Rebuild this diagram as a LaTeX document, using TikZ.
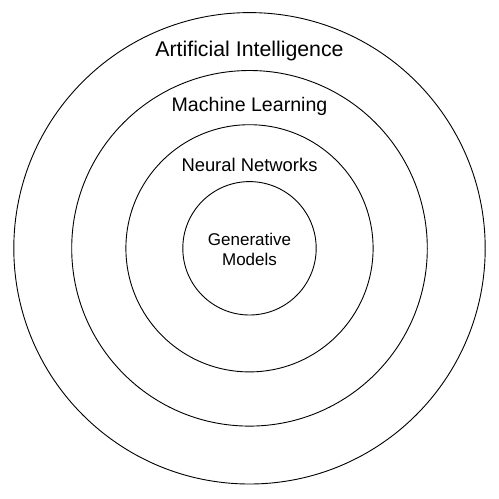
\documentclass[tikz,border=0pt]{standalone}
\usepackage{fontspec}
\setmainfont{Liberation Sans}
\begin{document}
\begin{tikzpicture}[x=1pt,y=-1pt,
  ring/.style={draw=black,line width=0.9pt,circle,inner sep=0pt,fill=none},
  lbl/.style={anchor=base,inner sep=0pt,text=black,align=center}]
\useasboundingbox (0,0) rectangle (499,499);
\fill[white] (0,0) rectangle (499,499);
\coordinate (c) at (249.5,248.3);
\node[ring,minimum size=471.4pt] (ai) at (c) {};
\node[ring,minimum size=355.6pt] (ml) at (c) {};
\node[ring,minimum size=247.2pt] (nn) at (c) {};
\node[ring,minimum size=133.4pt] (gm) at (c) {};
\node[lbl,font=\fontsize{21.3}{25}\selectfont] (tai) at (249.5,56) {Artificial Intelligence};
\node[lbl,font=\fontsize{19.6}{22}\selectfont] (tml) at (249.5,111.7) {Machine Learning};
\node[lbl,font=\fontsize{18.4}{22}\selectfont] (tnn) at (249.5,171.7) {Neural Networks};
\node[lbl,font=\fontsize{17}{20}\selectfont] (tgm1) at (249.5,245.7) {Generative};
\node[lbl,font=\fontsize{17}{20}\selectfont] (tgm2) at (249.5,265.5) {Models};
\end{tikzpicture}
\end{document}
